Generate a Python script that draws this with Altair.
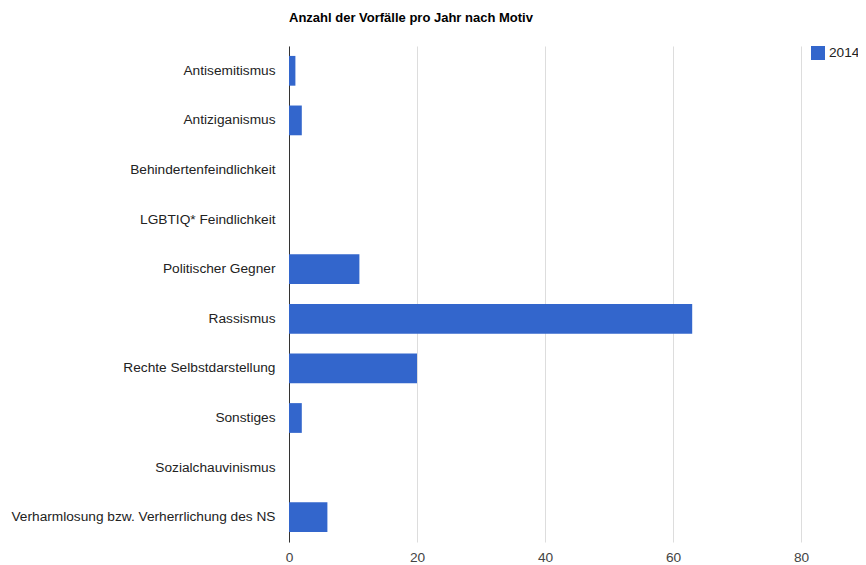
import altair as alt
import pandas as pd

categories = [
    "Antisemitismus",
    "Antiziganismus",
    "Behindertenfeindlichkeit",
    "LGBTIQ* Feindlichkeit",
    "Politischer Gegner",
    "Rassismus",
    "Rechte Selbstdarstellung",
    "Sonstiges",
    "Sozialchauvinismus",
    "Verharmlosung bzw. Verherrlichung des NS",
]
values_2014 = [1, 2, 0, 0, 11, 63, 20, 2, 0, 6]
series = ["2014"] * len(categories)
x_ticks = [0, 20, 40, 60, 80]

df = pd.DataFrame({"Motiv": categories, "Anzahl": values_2014, "Jahr": series})

FONT = "Liberation Sans"

chart = (
    alt.Chart(df)
    .mark_bar(color="#3366cc")
    .encode(
        y=alt.Y(
            "Motiv:N",
            sort=categories,
            title=None,
            scale=alt.Scale(paddingInner=0.4, paddingOuter=0.2),
            axis=alt.Axis(
                ticks=False,
                labelPadding=14,
                labelFontSize=13.7,
                labelColor="#222222",
                labelFont=FONT,
                labelLimit=400,
                domain=True,
                domainColor="#333333",
                grid=False,
            ),
        ),
        x=alt.X(
            "Anzahl:Q",
            title=None,
            scale=alt.Scale(domain=[0, 80], nice=False),
            axis=alt.Axis(
                values=x_ticks,
                ticks=False,
                domain=False,
                labelPadding=8,
                labelFontSize=13.7,
                labelColor="#444444",
                labelFont=FONT,
                gridColor="#dddddd",
                labelFlush=False,
            ),
        ),
        color=alt.Color(
            "Jahr:N",
            scale=alt.Scale(range=["#3366cc"]),
            legend=alt.Legend(
                title=None,
                orient="none",
                legendX=522,
                legendY=0,
                symbolType="square",
                symbolSize=196,
                symbolStrokeWidth=0,
                labelOffset=4,
                labelFontSize=13.7,
                labelFont=FONT,
                labelColor="#222222",
            ),
        ),
    )
    .properties(
        width=512,
        height=496,
        title=alt.TitleParams(
            "Anzahl der Vorfälle pro Jahr nach Motiv",
            anchor="start",
            frame="group",
            font=FONT,
            fontSize=13,
            fontWeight="bold",
            color="#000000",
            offset=21,
        ),
        autosize=alt.AutoSizeParams(type="none"),
        padding={"left": 281, "top": 38, "right": 57, "bottom": 23},
    )
    .configure_view(stroke=None)
)

chart.save("out.html", embed_options={"renderer": "svg", "actions": False})
